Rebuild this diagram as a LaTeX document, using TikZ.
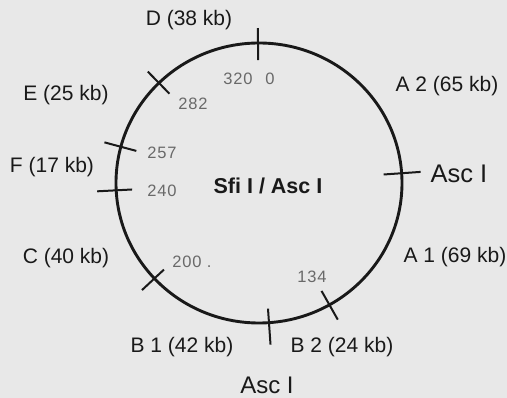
\documentclass[tikz,border=0pt]{standalone}
\usepackage{fontspec}
\setmainfont{Liberation Sans}
\newfontfamily\numfont[LetterSpace=5]{Liberation Sans}
\usetikzlibrary{calc}
\definecolor{bg}{RGB}{232,232,232}
\definecolor{ink}{RGB}{25,25,25}
\definecolor{numgray}{RGB}{105,105,105}
\tikzset{
  lbl/.style={text=ink, inner sep=0pt, font=\fontsize{21}{25}\selectfont},
  num/.style={text=numgray, inner sep=0pt, font=\numfont\fontsize{16.5}{19}\selectfont},
  enz/.style={text=ink, inner sep=0pt},
  ring/.style={draw=ink, line width=2.9pt},
  tickline/.style={draw=ink, line width=2pt}
}
\begin{document}
\begin{tikzpicture}[x=1pt,y=-1pt]
\fill[bg] (0,0) rectangle (507,398);
\useasboundingbox (0,0) rectangle (507,398);
\coordinate (c) at (259,183);
\draw[ring] (c) ellipse [x radius=143pt, y radius=140pt];
% ticks: angle / name / inner offset / outer offset
\foreach \a/\n/\i/\o in {90.4/t0/17/15, 4/tA/18/19, -60.5/t134/16/17, -86/tB/14/22, -137/t200/13/17, 183/t240/16/19, 165/t257/16/17, 134.4/t282/15/16} {
  \coordinate (\n in) at ($(c)+(\a:{143pt-\i pt} and {140pt-\i pt})$);
  \coordinate (\n out) at ($(c)+(\a:{143pt+\o pt} and {140pt+\o pt})$);
  \draw[tickline] (\n in) -- (\n out);
}
% fragment labels
\node[lbl] (D) at (189,20) {D (38 kb)};
\node[lbl] (E) at (66,95) {E (25 kb)};
\node[lbl] (A2) at (447,86) {A 2 (65 kb)};
\node[lbl] (F) at (52,167) {F (17 kb)};
\node[lbl] (C) at (66,258) {C (40 kb)};
\node[lbl] (A1) at (455,257) {A 1 (69 kb)};
\node[lbl] (B1) at (182,347) {B 1 (42 kb)};
\node[lbl] (B2) at (342,347) {B 2 (24 kb)};
% positions
\node[num] (n320) at (238,79) {320};
\node[num] (n0) at (270,79) {0};
\node[num] (n282) at (193,104) {282};
\node[num] (n257) at (162,153) {257};
\node[num] (n240) at (162,191) {240};
\node[num] (n200) at (192,262) {200 .};
\node[num] (n134) at (312,277) {134};
% enzymes
\node[enz, font=\bfseries\fontsize{21.5}{26}\selectfont] (title) at (268,186) {Sfi I / Asc I};
\node[enz, font=\fontsize{25.5}{30}\selectfont] (ascR) at (459,174) {Asc I};
\node[enz, font=\fontsize{24}{28}\selectfont] (ascB) at (267,385) {Asc I};
\end{tikzpicture}
\end{document}
